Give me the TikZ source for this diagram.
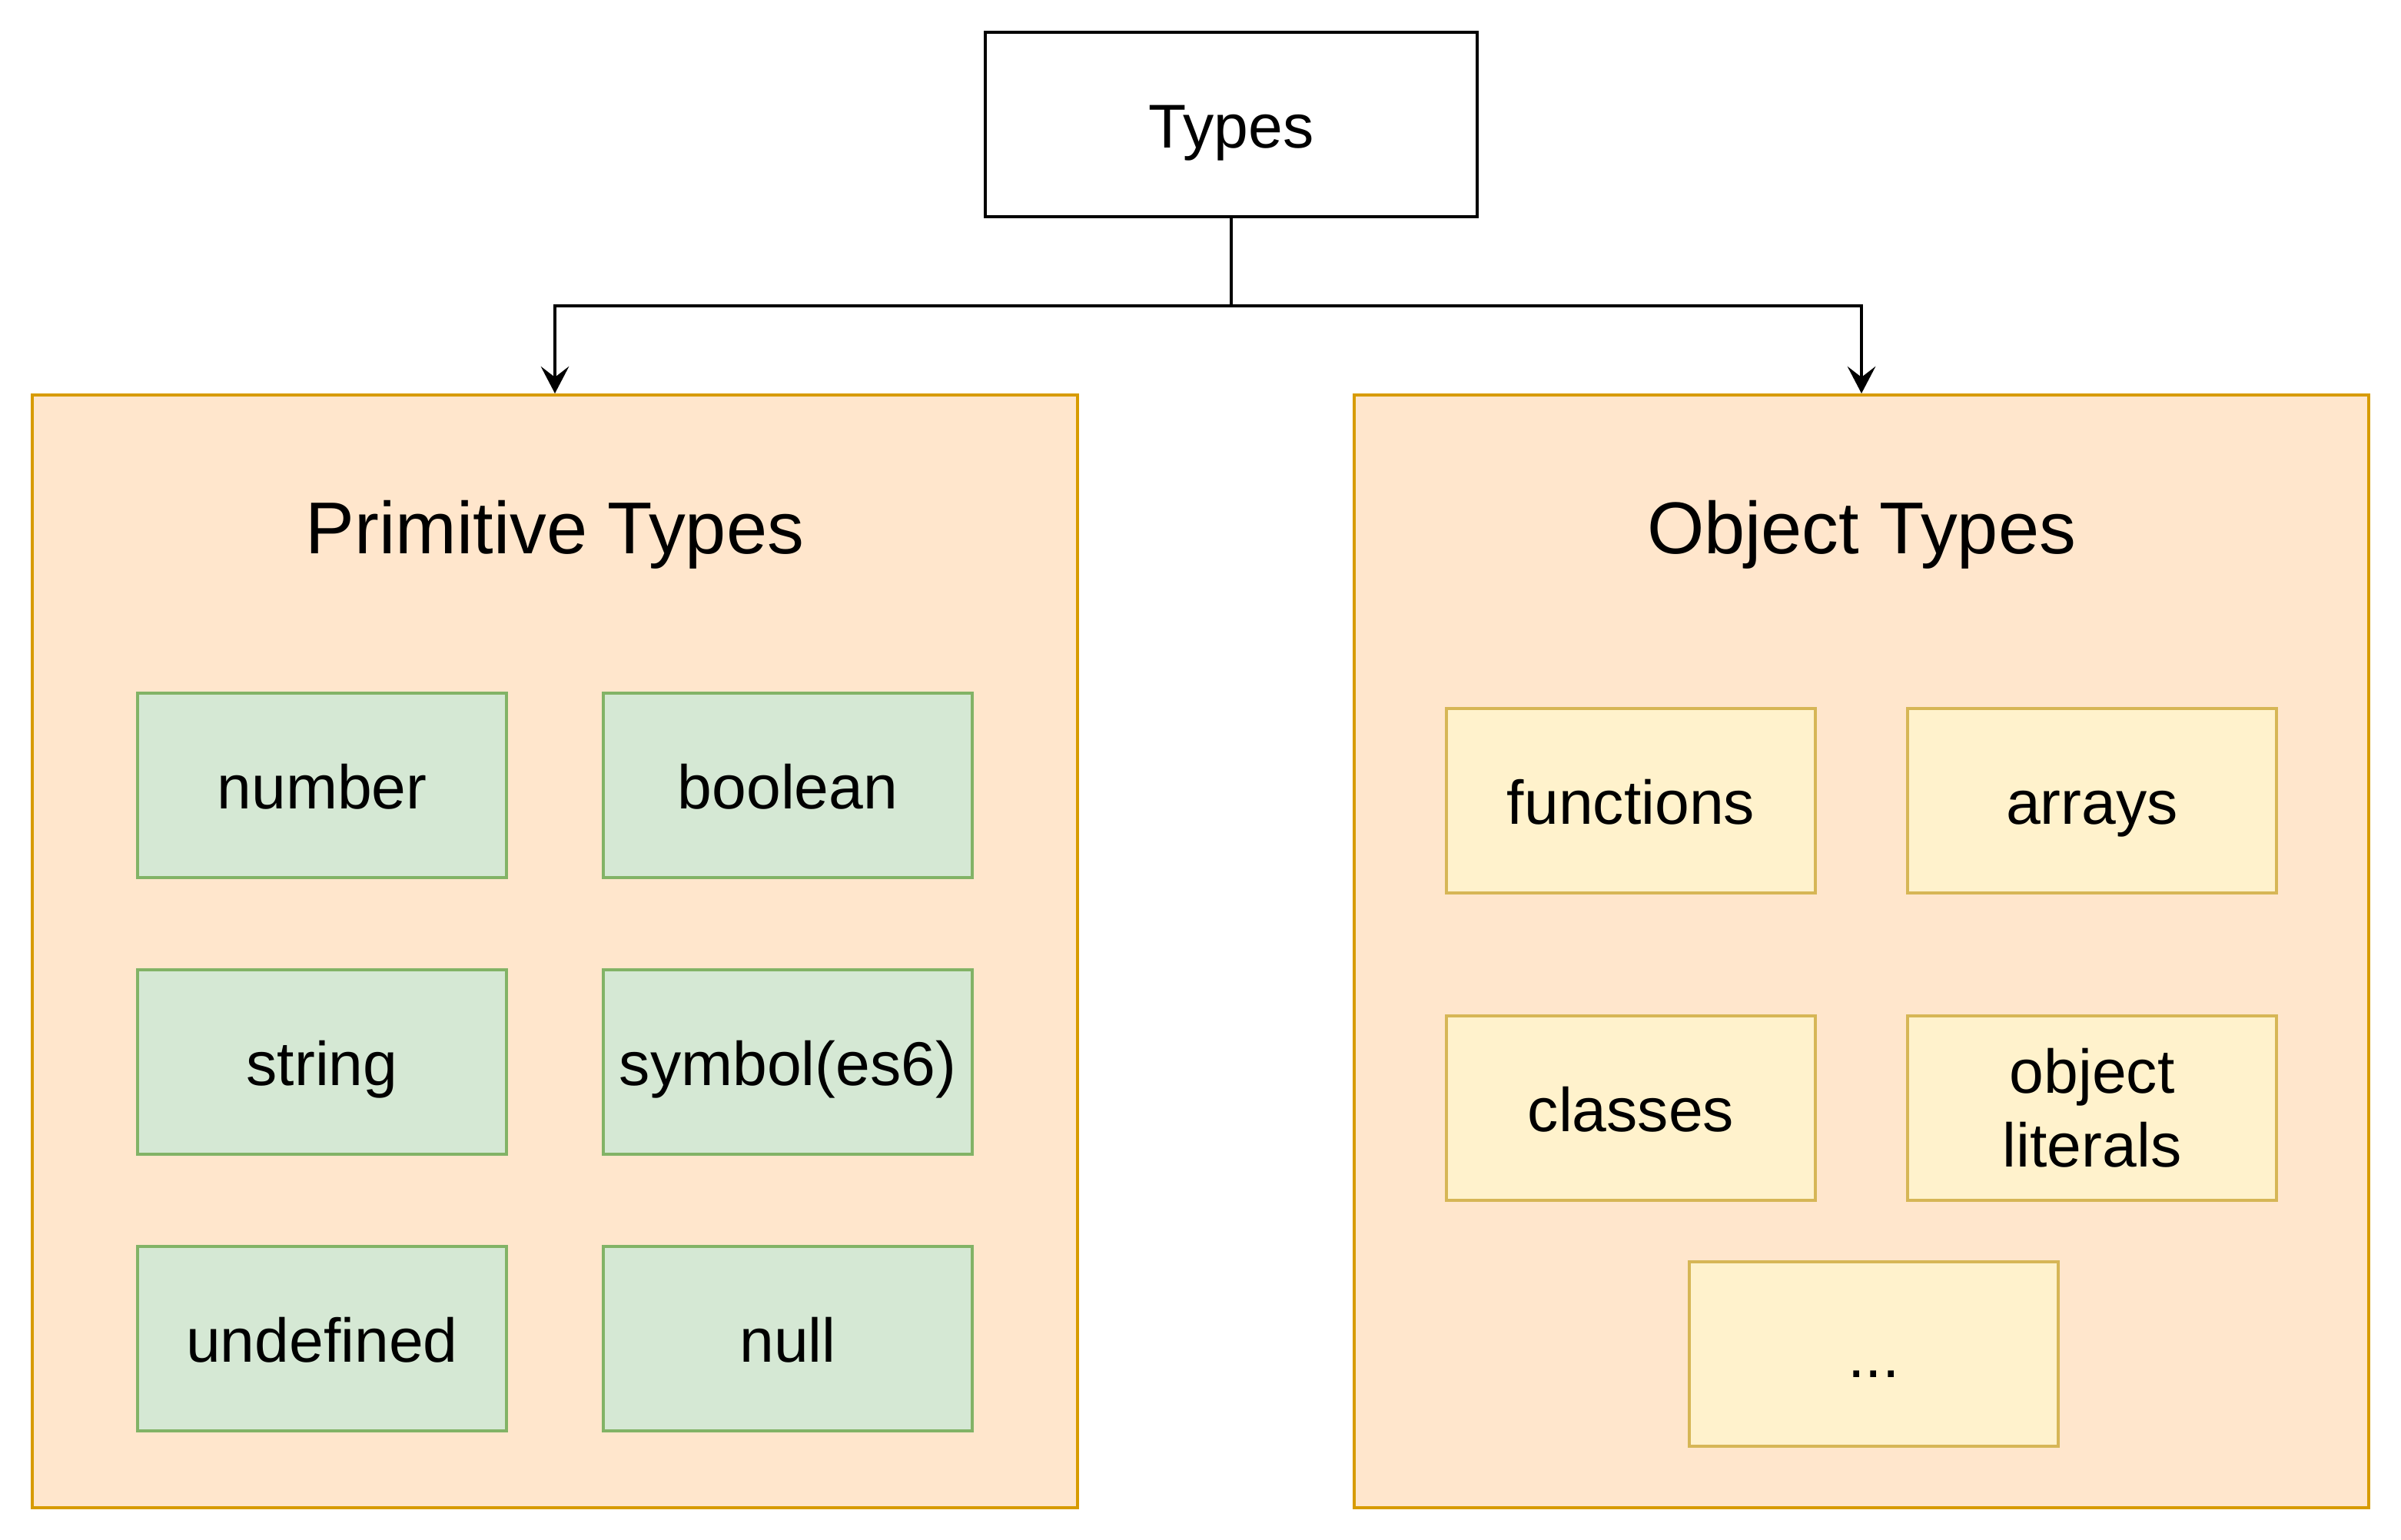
\documentclass[tikz,border=0pt]{standalone}
\usepackage{fontspec}
\setmainfont{Liberation Sans}
\usetikzlibrary{arrows.meta}
\definecolor{orfill}{HTML}{FFE6CC}
\definecolor{ordraw}{HTML}{D79B00}
\definecolor{grfill}{HTML}{D5E8D4}
\definecolor{grdraw}{HTML}{82B366}
\definecolor{yefill}{HTML}{FFF2CC}
\definecolor{yedraw}{HTML}{D6B656}
\begin{document}
\begin{tikzpicture}
    \tikzset{label/.style = {font=\fontsize{11.45}{13.7}\selectfont,text height=1em,text depth=0.14em}}
    \tikzset{root/.style = {label,draw,line width=0.57pt,minimum width=3.2cm,minimum height=1.2cm,inner sep=0pt}}
    \tikzset{group/.style = {draw=ordraw,fill=orfill,line width=0.57pt,inner sep=0pt}}
    \tikzset{head/.style = {font=\fontsize{13.6}{16.3}\selectfont,text height=0.95em,text depth=0.19em}}
    \tikzset{prim/.style = {label,draw=grdraw,fill=grfill,line width=0.57pt,minimum width=2.4cm,minimum height=1.2cm,inner sep=0pt}}
    \tikzset{obj/.style = {prim,draw=yedraw,fill=yefill,align=center}}
    \tikzset{edge/.style = {->,>={Stealth[length=5pt,width=5.2pt,inset=2pt]},line width=0.57pt}}
    \useasboundingbox (0,0) rectangle (15.62,-10.02);
    % top node
    \node[root] (types) at (8.01,-0.81) {Types};
    % the two groups
    \node[group,minimum width=6.8cm,minimum height=7.24cm] (pt) at (3.61,-6.19) {};
    \node[group,minimum width=6.6cm,minimum height=7.24cm] (ot) at (12.11,-6.19) {};
    \node[head] (pth) at (3.61,-3.47) {Primitive Types};
    \node[head] (oth) at (12.11,-3.47) {Object Types};
    % primitive types
    \node[prim] (num) at (2.095,-5.11) {number};
    \node[prim] (bool) at (5.125,-5.11) {boolean};
    \node[prim] (str) at (2.095,-6.91) {string};
    \node[prim] (sym) at (5.125,-6.91) {symbol(es6)};
    \node[prim] (undef) at (2.095,-8.71) {undefined};
    \node[prim] (null) at (5.125,-8.71) {null};
    % object types
    \node[obj] (fun) at (10.61,-5.21) {functions};
    \node[obj] (arr) at (13.61,-5.21) {arrays};
    \node[obj] (cls) at (10.61,-7.21) {classes};
    \node[obj,text height={},text depth={}] (lit) at (13.61,-7.21) {object\\literals};
    \node[obj] (etc) at (12.19,-8.81) {...};
    % edges
    \coordinate (fork) at (8.01,-1.99);
    \draw[line width=0.57pt] (types.south) -- (fork);
    \draw[edge] (fork) -| (pt.north);
    \draw[edge] (fork) -| (ot.north);
\end{tikzpicture}
\end{document}
